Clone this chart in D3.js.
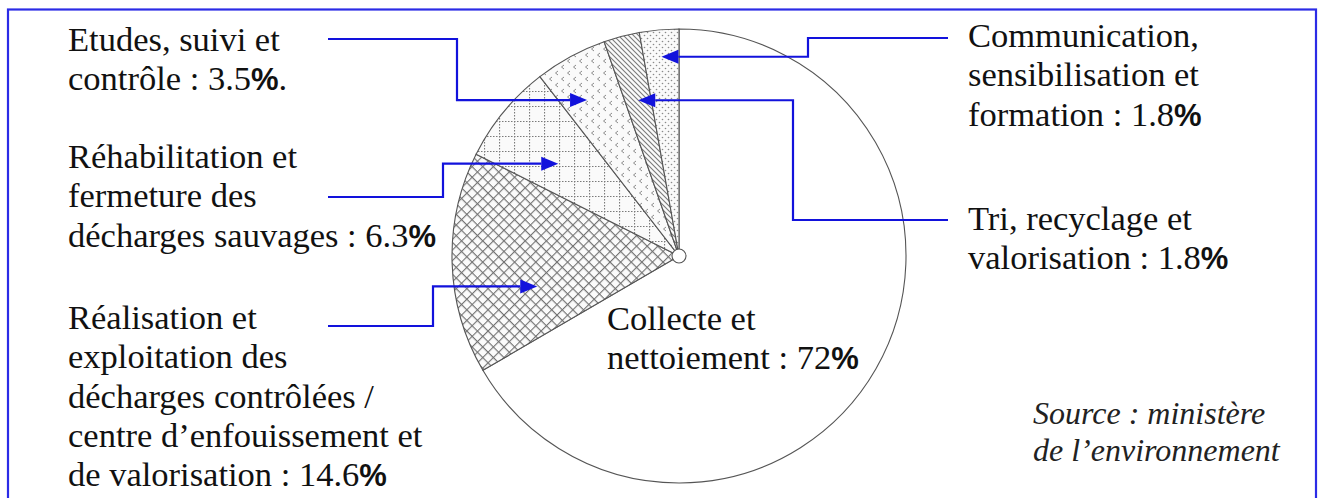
<!DOCTYPE html>
<html>
<head>
<meta charset="utf-8">
<script src="https://cdn.jsdelivr.net/npm/d3@7/dist/d3.min.js"></script>
<style>
  html, body { margin: 0; padding: 0; background: #fff; }
  svg { display: block; }
</style>
</head>
<body>
<svg id="chart" width="1321" height="498"></svg>
<script>
// ---- Data (clockwise from 12 o'clock) ----
const categories = [
  "Collecte et nettoiement",
  "Réalisation et exploitation des décharges contrôlées / centre d’enfouissement et de valorisation",
  "Réhabilitation et fermeture des décharges sauvages",
  "Etudes, suivi et contrôle",
  "Tri, recyclage et valorisation",
  "Communication, sensibilisation et formation"
];
// slice sizes as drawn in the picture (percent of the circle)
const drawnShares = [66.6, 15.8, 7.1, 5.15, 2.55, 2.8];
// percentages printed in the labels
const labelPercents = ["72", "14.6", "6.3", "3.5", "1.8", "1.8"];
// label text lines (the percentage is appended to the last line)
const labelLines = [
  ["Collecte et", "nettoiement : "],
  ["Réalisation et", "exploitation des", "décharges contrôlées /", "centre d’enfouissement et", "de valorisation : "],
  ["Réhabilitation et", "fermeture des", "décharges sauvages : "],
  ["Etudes, suivi et", "contrôle : "],
  ["Tri, recyclage et", "valorisation : "],
  ["Communication,", "sensibilisation et", "formation : "]
];
const labelSuffix = ["", "", "", ".", "", ""];
const sourceLines = ["Source : ministère", "de l’environnement"];

// ---- Layout ----
const W = 1321, H = 498;
const cx = 679, cy = 256, R = 227;
const svg = d3.select("#chart");
const serif = "'Liberation Serif', 'Times New Roman', serif";
const sans = "'Liberation Sans', Arial, sans-serif";
const blue = "#1212dc";

const defs = svg.append("defs");
// dotted fill
const pDots = defs.append("pattern").attr("id", "p-dots").attr("patternUnits", "userSpaceOnUse")
  .attr("width", 6).attr("height", 6);
pDots.append("rect").attr("width", 6).attr("height", 6).attr("fill", "#fafafa");
pDots.selectAll("circle").data([[1.5, 1.5], [4.5, 4.5]]).join("circle")
  .attr("cx", d => d[0]).attr("cy", d => d[1]).attr("r", 0.8).attr("fill", "#8a8a8a");
// diagonal hatching
const pHatch = defs.append("pattern").attr("id", "p-hatch").attr("patternUnits", "userSpaceOnUse")
  .attr("width", 5).attr("height", 5);
pHatch.append("rect").attr("width", 5).attr("height", 5).attr("fill", "#fafafa");
pHatch.append("path").attr("d", "M-1,-1 L6,6 M-1,4 L1,6 M4,-1 L6,1")
  .attr("stroke", "#7a7a7a").attr("stroke-width", 1.1);
// chevrons
const pChev = defs.append("pattern").attr("id", "p-chev").attr("patternUnits", "userSpaceOnUse")
  .attr("width", 12).attr("height", 12);
pChev.append("rect").attr("width", 12).attr("height", 12).attr("fill", "#fafafa");
pChev.append("path").attr("d", "M5,1 L2.5,3 L5,5 M11,7 L8.5,9 L11,11")
  .attr("stroke", "#8a8a8a").attr("stroke-width", 1).attr("fill", "none");
// dotted grid
const pGrid = defs.append("pattern").attr("id", "p-grid").attr("patternUnits", "userSpaceOnUse")
  .attr("width", 15).attr("height", 15);
pGrid.append("rect").attr("width", 15).attr("height", 15).attr("fill", "#fafafa");
pGrid.append("path").attr("d", "M0,0.5 L15,0.5 M0.5,0 L0.5,15")
  .attr("stroke", "#7a7a7a").attr("stroke-width", 1.2).attr("stroke-dasharray", "1.5,1.5");
// crosshatch
const pCross = defs.append("pattern").attr("id", "p-cross").attr("patternUnits", "userSpaceOnUse")
  .attr("width", 7.5).attr("height", 7.5).attr("patternTransform", "rotate(45)");
pCross.append("rect").attr("width", 7.5).attr("height", 7.5).attr("fill", "#fbfbfb");
pCross.append("path").attr("d", "M0,0.5 L7.5,0.5 M0.5,0 L0.5,7.5")
  .attr("stroke", "#737373").attr("stroke-width", 1.2);

const fills = ["#ffffff", "url(#p-cross)", "url(#p-grid)", "url(#p-chev)", "url(#p-hatch)", "url(#p-dots)"];

// border
svg.append("rect").attr("x", 8).attr("y", 9.5).attr("width", 1308).attr("height", 540)
  .attr("fill", "none").attr("stroke", "#2b2be6").attr("stroke-width", 2.2);

// pie
const pie = d3.pie().sort(null).value(d => d).startAngle(0).endAngle(2 * Math.PI);
const arcs = pie(drawnShares);
const arc = d3.arc().innerRadius(0).outerRadius(R);
const g = svg.append("g").attr("transform", `translate(${cx},${cy})`);
g.selectAll("path.slice").data(arcs).join("path").attr("class", "slice")
  .attr("d", arc)
  .attr("fill", (d, i) => fills[i])
  .attr("stroke", "#555").attr("stroke-width", 1.1);
g.append("circle").attr("r", 7).attr("fill", "#fff").attr("stroke", "#555").attr("stroke-width", 1.1);

// labels
const lineH = 39.3;
const labelPos = [
  { x: 607, y: 330 },
  { x: 68, y: 329 },
  { x: 68, y: 168 },
  { x: 68, y: 51 },
  { x: 968, y: 230 },
  { x: 968, y: 47 }
];
labelLines.forEach((lines, i) => {
  const t = svg.append("text").attr("font-family", serif).attr("font-size", 34.5).attr("fill", "#111");
  lines.forEach((ln, j) => {
    t.append("tspan").attr("x", labelPos[i].x).attr("y", labelPos[i].y + j * lineH).text(ln);
    if (j === lines.length - 1) {
      t.append("tspan").text(labelPercents[i]);
      t.append("tspan").attr("font-family", sans).attr("font-weight", "bold").attr("font-size", 31).text("%");
      if (labelSuffix[i]) t.append("tspan").text(labelSuffix[i]);
    }
  });
});

// source
const st = svg.append("text").attr("font-family", serif).attr("font-style", "italic")
  .attr("font-size", 32).attr("fill", "#222");
sourceLines.forEach((ln, j) => st.append("tspan").attr("x", 1033).attr("y", 424 + j * 37).text(ln));

// leader arrows: tip located in the slice (polar, relative to centre), elbow path to label side
const leaders = [
  null,
  { angOff: -10.3, r: 145, start: [328, 326], elbowX: 433 },
  { angOff: -2, r: 152, start: [328, 197], elbowX: 443 },
  { angOff: -2, r: 181, start: [328, 39], elbowX: 457 },
  { angOff: 0, r: 161, start: [948, 220], elbowX: 793 },
  { angOff: 0, r: 200, start: [948, 38], elbowX: 808 }
];
const deg = Math.PI / 180;
leaders.forEach((L, i) => {
  if (!L) return;
  const a = arcs[i];
  const mid = (a.startAngle + a.endAngle) / 2 + L.angOff * deg;
  const tipX = cx + L.r * Math.sin(mid);
  const tipY = cy - L.r * Math.cos(mid);
  const dir = L.start[0] < tipX ? 1 : -1;
  const headLen = 17, headHalf = 7;
  const baseX = tipX - dir * headLen;
  svg.append("path")
    .attr("d", `M${L.start[0]},${L.start[1]} H${L.elbowX} V${tipY} H${baseX}`)
    .attr("fill", "none").attr("stroke", blue).attr("stroke-width", 2.2);
  svg.append("path")
    .attr("d", `M${tipX},${tipY} L${baseX},${tipY - headHalf} L${baseX},${tipY + headHalf} Z`)
    .attr("fill", blue);
});
</script>
</body>
</html>
